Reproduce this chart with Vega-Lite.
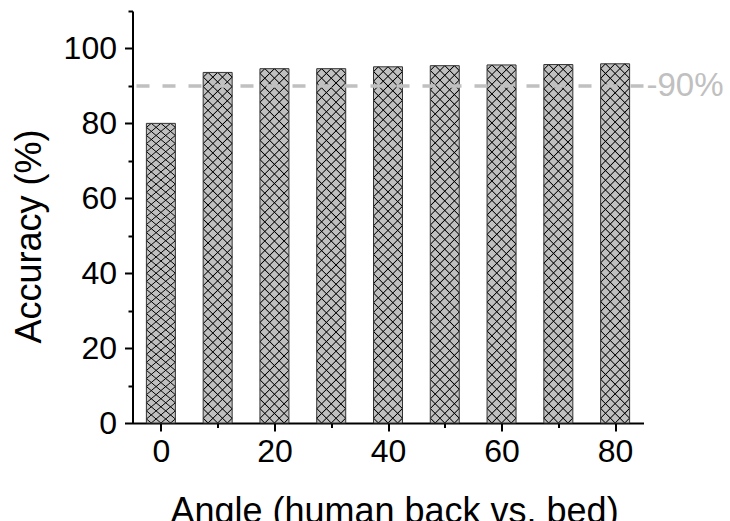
{
  "$schema": "https://vega.github.io/schema/vega-lite/v6.json",
  "width": 511,
  "height": 412,
  "autosize": {"type": "none"},
  "padding": {"left": 132.5, "top": 11, "right": 86.5, "bottom": 98},
  "config": {"view": {"stroke": null}, "font": "Liberation Sans"},
  "datasets": {
    "accuracy": [
      {"angle": 0, "accuracy": 80.0},
      {"angle": 10, "accuracy": 93.6},
      {"angle": 20, "accuracy": 94.6},
      {"angle": 30, "accuracy": 94.6},
      {"angle": 40, "accuracy": 95.1},
      {"angle": 50, "accuracy": 95.4},
      {"angle": 60, "accuracy": 95.6},
      {"angle": 70, "accuracy": 95.7},
      {"angle": 80, "accuracy": 95.9}
    ],
    "threshold": [{"level": 90, "label": "-90%"}]
  },
  "layer": [
    {
      "data": {"name": "accuracy"},
      "mark": {"type": "bar", "size": 29, "fill": "#c0c0c0"},
      "encoding": {
        "x": {
          "field": "angle", "type": "quantitative",
          "scale": {"domain": [-5, 85], "nice": false, "zero": false, "padding": 0},
          "axis": {
            "orient": "bottom", "values": [0, 20, 40, 60, 80], "grid": false,
            "domainColor": "#000", "domainWidth": 2,
            "tickColor": "#000", "tickWidth": 2, "tickSize": 8,
            "labelFontSize": 32, "labelColor": "#000", "labelPadding": 5,
            "title": "Angle (human back vs. bed)", "titleFontSize": 36,
            "titleFontWeight": "normal", "titleColor": "#000", "titlePadding": 27,
            "titleX": 261.5
          }
        },
        "y": {
          "field": "accuracy", "type": "quantitative",
          "scale": {"domain": [0, 110], "nice": false},
          "axis": {
            "orient": "left", "values": [0, 20, 40, 60, 80, 100], "grid": false,
            "domainColor": "#000", "domainWidth": 2,
            "tickColor": "#000", "tickWidth": 2, "tickSize": 8,
            "labelFontSize": 32, "labelColor": "#000", "labelPadding": 8,
            "title": "Accuracy (%)", "titleFontSize": 36,
            "titleFontWeight": "normal", "titleColor": "#000", "titlePadding": 15,
            "titleY": 225
          }
        }
      }
    },
    {
      "data": {"name": "accuracy"},
      "mark": {
        "type": "bar", "size": 29,
        "fill": {
          "gradient": "linear", "x1": 0, "y1": 0, "x2": 0.0875, "y2": 1.0742,
          "stops": [
            {"offset": 0.0095, "color": "rgba(0,0,0,0)"}, {"offset": 0.0125, "color": "#000"}, {"offset": 0.0155, "color": "rgba(0,0,0,0)"},
            {"offset": 0.0345, "color": "rgba(0,0,0,0)"}, {"offset": 0.0375, "color": "#000"}, {"offset": 0.0405, "color": "rgba(0,0,0,0)"},
            {"offset": 0.0595, "color": "rgba(0,0,0,0)"}, {"offset": 0.0625, "color": "#000"}, {"offset": 0.0655, "color": "rgba(0,0,0,0)"},
            {"offset": 0.0845, "color": "rgba(0,0,0,0)"}, {"offset": 0.0875, "color": "#000"}, {"offset": 0.0905, "color": "rgba(0,0,0,0)"},
            {"offset": 0.1095, "color": "rgba(0,0,0,0)"}, {"offset": 0.1125, "color": "#000"}, {"offset": 0.1155, "color": "rgba(0,0,0,0)"},
            {"offset": 0.1345, "color": "rgba(0,0,0,0)"}, {"offset": 0.1375, "color": "#000"}, {"offset": 0.1405, "color": "rgba(0,0,0,0)"},
            {"offset": 0.1595, "color": "rgba(0,0,0,0)"}, {"offset": 0.1625, "color": "#000"}, {"offset": 0.1655, "color": "rgba(0,0,0,0)"},
            {"offset": 0.1845, "color": "rgba(0,0,0,0)"}, {"offset": 0.1875, "color": "#000"}, {"offset": 0.1905, "color": "rgba(0,0,0,0)"},
            {"offset": 0.2095, "color": "rgba(0,0,0,0)"}, {"offset": 0.2125, "color": "#000"}, {"offset": 0.2155, "color": "rgba(0,0,0,0)"},
            {"offset": 0.2345, "color": "rgba(0,0,0,0)"}, {"offset": 0.2375, "color": "#000"}, {"offset": 0.2405, "color": "rgba(0,0,0,0)"},
            {"offset": 0.2595, "color": "rgba(0,0,0,0)"}, {"offset": 0.2625, "color": "#000"}, {"offset": 0.2655, "color": "rgba(0,0,0,0)"},
            {"offset": 0.2845, "color": "rgba(0,0,0,0)"}, {"offset": 0.2875, "color": "#000"}, {"offset": 0.2905, "color": "rgba(0,0,0,0)"},
            {"offset": 0.3095, "color": "rgba(0,0,0,0)"}, {"offset": 0.3125, "color": "#000"}, {"offset": 0.3155, "color": "rgba(0,0,0,0)"},
            {"offset": 0.3345, "color": "rgba(0,0,0,0)"}, {"offset": 0.3375, "color": "#000"}, {"offset": 0.3405, "color": "rgba(0,0,0,0)"},
            {"offset": 0.3595, "color": "rgba(0,0,0,0)"}, {"offset": 0.3625, "color": "#000"}, {"offset": 0.3655, "color": "rgba(0,0,0,0)"},
            {"offset": 0.3845, "color": "rgba(0,0,0,0)"}, {"offset": 0.3875, "color": "#000"}, {"offset": 0.3905, "color": "rgba(0,0,0,0)"},
            {"offset": 0.4095, "color": "rgba(0,0,0,0)"}, {"offset": 0.4125, "color": "#000"}, {"offset": 0.4155, "color": "rgba(0,0,0,0)"},
            {"offset": 0.4345, "color": "rgba(0,0,0,0)"}, {"offset": 0.4375, "color": "#000"}, {"offset": 0.4405, "color": "rgba(0,0,0,0)"},
            {"offset": 0.4595, "color": "rgba(0,0,0,0)"}, {"offset": 0.4625, "color": "#000"}, {"offset": 0.4655, "color": "rgba(0,0,0,0)"},
            {"offset": 0.4845, "color": "rgba(0,0,0,0)"}, {"offset": 0.4875, "color": "#000"}, {"offset": 0.4905, "color": "rgba(0,0,0,0)"},
            {"offset": 0.5095, "color": "rgba(0,0,0,0)"}, {"offset": 0.5125, "color": "#000"}, {"offset": 0.5155, "color": "rgba(0,0,0,0)"},
            {"offset": 0.5345, "color": "rgba(0,0,0,0)"}, {"offset": 0.5375, "color": "#000"}, {"offset": 0.5405, "color": "rgba(0,0,0,0)"},
            {"offset": 0.5595, "color": "rgba(0,0,0,0)"}, {"offset": 0.5625, "color": "#000"}, {"offset": 0.5655, "color": "rgba(0,0,0,0)"},
            {"offset": 0.5845, "color": "rgba(0,0,0,0)"}, {"offset": 0.5875, "color": "#000"}, {"offset": 0.5905, "color": "rgba(0,0,0,0)"},
            {"offset": 0.6095, "color": "rgba(0,0,0,0)"}, {"offset": 0.6125, "color": "#000"}, {"offset": 0.6155, "color": "rgba(0,0,0,0)"},
            {"offset": 0.6345, "color": "rgba(0,0,0,0)"}, {"offset": 0.6375, "color": "#000"}, {"offset": 0.6405, "color": "rgba(0,0,0,0)"},
            {"offset": 0.6595, "color": "rgba(0,0,0,0)"}, {"offset": 0.6625, "color": "#000"}, {"offset": 0.6655, "color": "rgba(0,0,0,0)"},
            {"offset": 0.6845, "color": "rgba(0,0,0,0)"}, {"offset": 0.6875, "color": "#000"}, {"offset": 0.6905, "color": "rgba(0,0,0,0)"},
            {"offset": 0.7095, "color": "rgba(0,0,0,0)"}, {"offset": 0.7125, "color": "#000"}, {"offset": 0.7155, "color": "rgba(0,0,0,0)"},
            {"offset": 0.7345, "color": "rgba(0,0,0,0)"}, {"offset": 0.7375, "color": "#000"}, {"offset": 0.7405, "color": "rgba(0,0,0,0)"},
            {"offset": 0.7595, "color": "rgba(0,0,0,0)"}, {"offset": 0.7625, "color": "#000"}, {"offset": 0.7655, "color": "rgba(0,0,0,0)"},
            {"offset": 0.7845, "color": "rgba(0,0,0,0)"}, {"offset": 0.7875, "color": "#000"}, {"offset": 0.7905, "color": "rgba(0,0,0,0)"},
            {"offset": 0.8095, "color": "rgba(0,0,0,0)"}, {"offset": 0.8125, "color": "#000"}, {"offset": 0.8155, "color": "rgba(0,0,0,0)"},
            {"offset": 0.8345, "color": "rgba(0,0,0,0)"}, {"offset": 0.8375, "color": "#000"}, {"offset": 0.8405, "color": "rgba(0,0,0,0)"},
            {"offset": 0.8595, "color": "rgba(0,0,0,0)"}, {"offset": 0.8625, "color": "#000"}, {"offset": 0.8655, "color": "rgba(0,0,0,0)"},
            {"offset": 0.8845, "color": "rgba(0,0,0,0)"}, {"offset": 0.8875, "color": "#000"}, {"offset": 0.8905, "color": "rgba(0,0,0,0)"},
            {"offset": 0.9095, "color": "rgba(0,0,0,0)"}, {"offset": 0.9125, "color": "#000"}, {"offset": 0.9155, "color": "rgba(0,0,0,0)"},
            {"offset": 0.9345, "color": "rgba(0,0,0,0)"}, {"offset": 0.9375, "color": "#000"}, {"offset": 0.9405, "color": "rgba(0,0,0,0)"},
            {"offset": 0.9595, "color": "rgba(0,0,0,0)"}, {"offset": 0.9625, "color": "#000"}, {"offset": 0.9655, "color": "rgba(0,0,0,0)"},
            {"offset": 0.9845, "color": "rgba(0,0,0,0)"}, {"offset": 0.9875, "color": "#000"}, {"offset": 0.9905, "color": "rgba(0,0,0,0)"}
          ]
        }
      },
      "encoding": {
        "x": {
          "field": "angle", "type": "quantitative",
          "axis": {
            "orient": "bottom", "values": [10, 30, 50, 70], "grid": false,
            "domain": false, "labels": false, "title": null,
            "tickColor": "#000", "tickWidth": 2, "tickSize": 4.5
          }
        },
        "y": {
          "field": "accuracy", "type": "quantitative",
          "axis": {
            "orient": "left", "values": [10, 30, 50, 70, 90, 110], "grid": false,
            "domain": false, "labels": false, "title": null,
            "tickColor": "#000", "tickWidth": 2, "tickSize": 4.5
          }
        }
      }
    },
    {
      "data": {"name": "accuracy"},
      "mark": {
        "type": "bar", "size": 29, "stroke": "#333", "strokeWidth": 1,
        "fill": {
          "gradient": "linear", "x1": 1, "y1": 0, "x2": 0.9125, "y2": 1.0742,
          "stops": [
            {"offset": 0.0095, "color": "rgba(0,0,0,0)"}, {"offset": 0.0125, "color": "#000"}, {"offset": 0.0155, "color": "rgba(0,0,0,0)"},
            {"offset": 0.0345, "color": "rgba(0,0,0,0)"}, {"offset": 0.0375, "color": "#000"}, {"offset": 0.0405, "color": "rgba(0,0,0,0)"},
            {"offset": 0.0595, "color": "rgba(0,0,0,0)"}, {"offset": 0.0625, "color": "#000"}, {"offset": 0.0655, "color": "rgba(0,0,0,0)"},
            {"offset": 0.0845, "color": "rgba(0,0,0,0)"}, {"offset": 0.0875, "color": "#000"}, {"offset": 0.0905, "color": "rgba(0,0,0,0)"},
            {"offset": 0.1095, "color": "rgba(0,0,0,0)"}, {"offset": 0.1125, "color": "#000"}, {"offset": 0.1155, "color": "rgba(0,0,0,0)"},
            {"offset": 0.1345, "color": "rgba(0,0,0,0)"}, {"offset": 0.1375, "color": "#000"}, {"offset": 0.1405, "color": "rgba(0,0,0,0)"},
            {"offset": 0.1595, "color": "rgba(0,0,0,0)"}, {"offset": 0.1625, "color": "#000"}, {"offset": 0.1655, "color": "rgba(0,0,0,0)"},
            {"offset": 0.1845, "color": "rgba(0,0,0,0)"}, {"offset": 0.1875, "color": "#000"}, {"offset": 0.1905, "color": "rgba(0,0,0,0)"},
            {"offset": 0.2095, "color": "rgba(0,0,0,0)"}, {"offset": 0.2125, "color": "#000"}, {"offset": 0.2155, "color": "rgba(0,0,0,0)"},
            {"offset": 0.2345, "color": "rgba(0,0,0,0)"}, {"offset": 0.2375, "color": "#000"}, {"offset": 0.2405, "color": "rgba(0,0,0,0)"},
            {"offset": 0.2595, "color": "rgba(0,0,0,0)"}, {"offset": 0.2625, "color": "#000"}, {"offset": 0.2655, "color": "rgba(0,0,0,0)"},
            {"offset": 0.2845, "color": "rgba(0,0,0,0)"}, {"offset": 0.2875, "color": "#000"}, {"offset": 0.2905, "color": "rgba(0,0,0,0)"},
            {"offset": 0.3095, "color": "rgba(0,0,0,0)"}, {"offset": 0.3125, "color": "#000"}, {"offset": 0.3155, "color": "rgba(0,0,0,0)"},
            {"offset": 0.3345, "color": "rgba(0,0,0,0)"}, {"offset": 0.3375, "color": "#000"}, {"offset": 0.3405, "color": "rgba(0,0,0,0)"},
            {"offset": 0.3595, "color": "rgba(0,0,0,0)"}, {"offset": 0.3625, "color": "#000"}, {"offset": 0.3655, "color": "rgba(0,0,0,0)"},
            {"offset": 0.3845, "color": "rgba(0,0,0,0)"}, {"offset": 0.3875, "color": "#000"}, {"offset": 0.3905, "color": "rgba(0,0,0,0)"},
            {"offset": 0.4095, "color": "rgba(0,0,0,0)"}, {"offset": 0.4125, "color": "#000"}, {"offset": 0.4155, "color": "rgba(0,0,0,0)"},
            {"offset": 0.4345, "color": "rgba(0,0,0,0)"}, {"offset": 0.4375, "color": "#000"}, {"offset": 0.4405, "color": "rgba(0,0,0,0)"},
            {"offset": 0.4595, "color": "rgba(0,0,0,0)"}, {"offset": 0.4625, "color": "#000"}, {"offset": 0.4655, "color": "rgba(0,0,0,0)"},
            {"offset": 0.4845, "color": "rgba(0,0,0,0)"}, {"offset": 0.4875, "color": "#000"}, {"offset": 0.4905, "color": "rgba(0,0,0,0)"},
            {"offset": 0.5095, "color": "rgba(0,0,0,0)"}, {"offset": 0.5125, "color": "#000"}, {"offset": 0.5155, "color": "rgba(0,0,0,0)"},
            {"offset": 0.5345, "color": "rgba(0,0,0,0)"}, {"offset": 0.5375, "color": "#000"}, {"offset": 0.5405, "color": "rgba(0,0,0,0)"},
            {"offset": 0.5595, "color": "rgba(0,0,0,0)"}, {"offset": 0.5625, "color": "#000"}, {"offset": 0.5655, "color": "rgba(0,0,0,0)"},
            {"offset": 0.5845, "color": "rgba(0,0,0,0)"}, {"offset": 0.5875, "color": "#000"}, {"offset": 0.5905, "color": "rgba(0,0,0,0)"},
            {"offset": 0.6095, "color": "rgba(0,0,0,0)"}, {"offset": 0.6125, "color": "#000"}, {"offset": 0.6155, "color": "rgba(0,0,0,0)"},
            {"offset": 0.6345, "color": "rgba(0,0,0,0)"}, {"offset": 0.6375, "color": "#000"}, {"offset": 0.6405, "color": "rgba(0,0,0,0)"},
            {"offset": 0.6595, "color": "rgba(0,0,0,0)"}, {"offset": 0.6625, "color": "#000"}, {"offset": 0.6655, "color": "rgba(0,0,0,0)"},
            {"offset": 0.6845, "color": "rgba(0,0,0,0)"}, {"offset": 0.6875, "color": "#000"}, {"offset": 0.6905, "color": "rgba(0,0,0,0)"},
            {"offset": 0.7095, "color": "rgba(0,0,0,0)"}, {"offset": 0.7125, "color": "#000"}, {"offset": 0.7155, "color": "rgba(0,0,0,0)"},
            {"offset": 0.7345, "color": "rgba(0,0,0,0)"}, {"offset": 0.7375, "color": "#000"}, {"offset": 0.7405, "color": "rgba(0,0,0,0)"},
            {"offset": 0.7595, "color": "rgba(0,0,0,0)"}, {"offset": 0.7625, "color": "#000"}, {"offset": 0.7655, "color": "rgba(0,0,0,0)"},
            {"offset": 0.7845, "color": "rgba(0,0,0,0)"}, {"offset": 0.7875, "color": "#000"}, {"offset": 0.7905, "color": "rgba(0,0,0,0)"},
            {"offset": 0.8095, "color": "rgba(0,0,0,0)"}, {"offset": 0.8125, "color": "#000"}, {"offset": 0.8155, "color": "rgba(0,0,0,0)"},
            {"offset": 0.8345, "color": "rgba(0,0,0,0)"}, {"offset": 0.8375, "color": "#000"}, {"offset": 0.8405, "color": "rgba(0,0,0,0)"},
            {"offset": 0.8595, "color": "rgba(0,0,0,0)"}, {"offset": 0.8625, "color": "#000"}, {"offset": 0.8655, "color": "rgba(0,0,0,0)"},
            {"offset": 0.8845, "color": "rgba(0,0,0,0)"}, {"offset": 0.8875, "color": "#000"}, {"offset": 0.8905, "color": "rgba(0,0,0,0)"},
            {"offset": 0.9095, "color": "rgba(0,0,0,0)"}, {"offset": 0.9125, "color": "#000"}, {"offset": 0.9155, "color": "rgba(0,0,0,0)"},
            {"offset": 0.9345, "color": "rgba(0,0,0,0)"}, {"offset": 0.9375, "color": "#000"}, {"offset": 0.9405, "color": "rgba(0,0,0,0)"},
            {"offset": 0.9595, "color": "rgba(0,0,0,0)"}, {"offset": 0.9625, "color": "#000"}, {"offset": 0.9655, "color": "rgba(0,0,0,0)"},
            {"offset": 0.9845, "color": "rgba(0,0,0,0)"}, {"offset": 0.9875, "color": "#000"}, {"offset": 0.9905, "color": "rgba(0,0,0,0)"}
          ]
        }
      },
      "encoding": {
        "x": {"field": "angle", "type": "quantitative", "axis": null},
        "y": {"field": "accuracy", "type": "quantitative", "axis": null}
      }
    },
    {
      "data": {"name": "threshold"},
      "mark": {"type": "rule", "stroke": "#c0c0c0", "strokeWidth": 3.5, "strokeDash": [13, 13]},
      "encoding": {
        "y": {"field": "level", "type": "quantitative", "axis": null}
      }
    },
    {
      "data": {"name": "threshold"},
      "mark": {"type": "text", "align": "left", "baseline": "middle", "fontSize": 33, "color": "#c0c0c0", "dx": 3},
      "encoding": {
        "x": {"datum": 85, "type": "quantitative", "axis": null},
        "y": {"field": "level", "type": "quantitative", "axis": null},
        "text": {"field": "label"}
      }
    }
  ],
  "resolve": {"axis": {"x": "independent", "y": "independent"}}
}
